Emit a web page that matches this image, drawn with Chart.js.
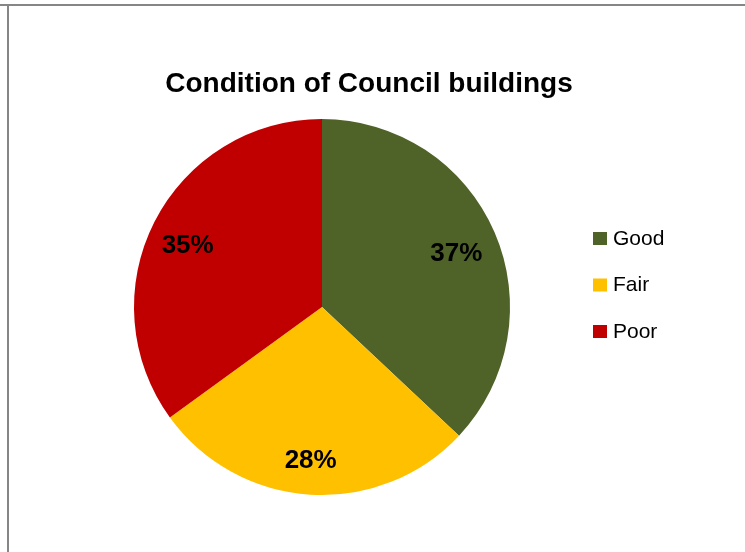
<!DOCTYPE html>
<html>
<head>
<meta charset="utf-8">
<script src="https://cdn.jsdelivr.net/npm/chart.js@4.4.1/dist/chart.umd.min.js"></script>
<style>
  html, body { margin: 0; padding: 0; background: #fff; }
  #wrap { position: relative; width: 745px; height: 552px; }
</style>
</head>
<body>
<div id="wrap"><canvas id="grafica-pastel" width="745" height="552"></canvas></div>
<script>
const titulo = "Condition of Council buildings";
const categorias = ["Good", "Fair", "Poor"];
const porcentajes = [37, 28, 35];
const colores = ["#4F6228", "#FFC000", "#C00000"];

// marco gris (solo arriba e izquierda), titulo, etiquetas y leyenda
const decoracion = {
  id: "decoracion",
  beforeDraw(chart) {
    const ctx = chart.ctx;
    ctx.save();
    ctx.fillStyle = "#fff";
    ctx.fillRect(0, 0, chart.width, chart.height);
    ctx.fillStyle = "#868686";
    ctx.fillRect(0, 4, chart.width, 2);
    ctx.fillRect(7, 4, 2, chart.height - 4);
    ctx.restore();
  },
  afterDraw(chart) {
    const ctx = chart.ctx;
    ctx.save();
    ctx.fillStyle = "#000";
    ctx.textBaseline = "middle";

    ctx.font = "bold 28px 'Liberation Sans', Arial, sans-serif";
    ctx.textAlign = "center";
    ctx.fillText(titulo, 369, 84);

    // porcentajes dentro de cada sector (un poco desplazados hacia abajo)
    ctx.font = "bold 26px 'Liberation Sans', Arial, sans-serif";
    chart.getDatasetMeta(0).data.forEach((arco, i) => {
      const a = (arco.startAngle + arco.endAngle) / 2;
      const r = arco.outerRadius * 0.79;
      ctx.fillText(porcentajes[i] + "%", arco.x - 2 + Math.cos(a) * r, arco.y + 6 + Math.sin(a) * r);
    });

    // leyenda a la derecha
    ctx.font = "21px 'Liberation Sans', Arial, sans-serif";
    ctx.textAlign = "left";
    categorias.forEach((c, i) => {
      const y = 238 + i * 46.5;
      ctx.fillStyle = colores[i];
      ctx.fillRect(593, y - 6, 14, 13);
      ctx.fillStyle = "#000";
      ctx.fillText(c, 613, y + 1);
    });
    ctx.restore();
  }
};

new Chart(document.getElementById("grafica-pastel"), {
  type: "pie",
  data: {
    labels: categorias,
    datasets: [{
      data: porcentajes,
      backgroundColor: colores,
      borderWidth: 0
    }]
  },
  options: {
    responsive: false,
    animation: false,
    layout: { padding: { left: 134, right: 235, top: 119, bottom: 57 } },
    plugins: {
      legend: { display: false },
      title: { display: false },
      tooltip: { enabled: false }
    }
  },
  plugins: [decoracion]
});
</script>
</body>
</html>
